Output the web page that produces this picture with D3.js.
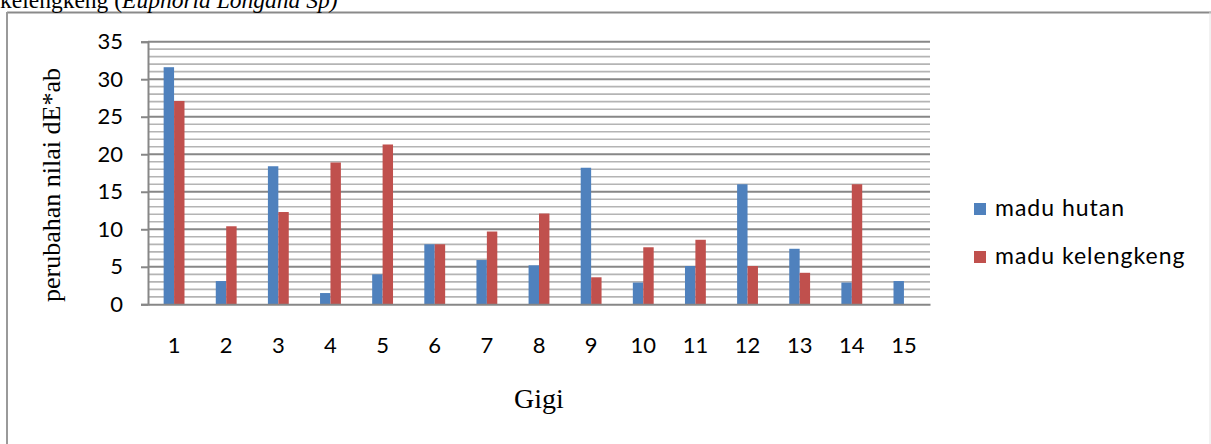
<!DOCTYPE html>
<html>
<head>
<meta charset="utf-8">
<script src="https://cdn.jsdelivr.net/npm/d3@7"></script>
<style>
  body { margin: 0; background: #fff; }
  svg { display: block; }
</style>
</head>
<body>
<div id="chart"></div>
<script>
// Data
const teeth = ['1','2','3','4','5','6','7','8','9','10','11','12','13','14','15'];
const seriesNames = ['madu hutan', 'madu kelengkeng'];
const maduHutan      = [31.6, 3.1, 18.4, 1.5, 4.0, 8.0, 5.9, 5.2, 18.2, 2.9, 5.1, 16.0, 7.4, 2.9, 3.1];
const maduKelengkeng = [27.1, 10.4, 12.3, 18.9, 21.3, 8.0, 9.7, 12.1, 3.6, 7.6, 8.6, 5.1, 4.2, 16.0, 0];
const yTicks = [0, 5, 10, 15, 20, 25, 30, 35];
const colors = ['#4F81BD', '#C0504D'];

const W = 1211, H = 444;
const margin = { top: 41.7, left: 148, right: W - 930, bottom: H - 304.3 };
const width = W - margin.left - margin.right;
const height = H - margin.top - margin.bottom;

const root = d3.select('#chart').append('svg')
    .attr('width', W)
    .attr('height', H);

// frame of the figure and cut-off caption above it
root.append('line').attr('x1', 7).attr('x2', 1211).attr('y1', 12.5).attr('y2', 12.5)
    .attr('stroke', '#8a8a8a').attr('stroke-width', 2);
root.append('line').attr('x1', 7).attr('x2', 7).attr('y1', 12).attr('y2', H)
    .attr('stroke', '#9a9a9a').attr('stroke-width', 2);
root.append('line').attr('x1', 1210).attr('x2', 1210).attr('y1', 12).attr('y2', H)
    .attr('stroke', '#e4e4e4').attr('stroke-width', 1);

const cap = root.append('text')
    .attr('x', 0).attr('y', 8)
    .style('font-family', '"Liberation Serif", "Times New Roman", serif')
    .style('font-size', '23.5px');
cap.append('tspan').text('kelengkeng (');
cap.append('tspan').style('font-style', 'italic').text('Euphoria Longana Sp)');

const svg = root.append('g')
    .attr('transform', `translate(${margin.left},${margin.top})`);

// scales
const x0 = d3.scaleBand().domain(teeth).range([0, width]).paddingInner(0.6).paddingOuter(0.3);
const x1 = d3.scaleBand().domain(seriesNames).range([0, x0.bandwidth()]);
const y = d3.scaleLinear().domain([0, 35]).range([height, 0]);

// gridlines: minor every 1, major every 5
const minor = d3.range(1, 35).filter(v => v % 5 !== 0);
svg.append('g').selectAll('line').data(minor).enter().append('line')
    .attr('x1', 0).attr('x2', width)
    .attr('y1', d => y(d)).attr('y2', d => y(d))
    .attr('stroke', '#b4b4b4').attr('stroke-width', 1.7);
svg.append('g').selectAll('line').data(yTicks.filter(v => v > 0)).enter().append('line')
    .attr('x1', 0).attr('x2', width)
    .attr('y1', d => y(d)).attr('y2', d => y(d))
    .attr('stroke', '#878787').attr('stroke-width', 2);

// bars
const rows = teeth.map((t, i) => ({ t, vals: [maduHutan[i], maduKelengkeng[i]] }));
svg.append('g').selectAll('g').data(rows).enter().append('g')
    .attr('transform', d => `translate(${x0(d.t)},0)`)
    .selectAll('rect')
    .data(d => d.vals.map((v, k) => ({ k, v })))
    .enter().append('rect')
    .attr('x', d => x1(seriesNames[d.k]))
    .attr('width', x1.bandwidth())
    .attr('y', d => y(d.v))
    .attr('height', d => y(0) - y(d.v))
    .attr('fill', d => colors[d.k]);

// axes
const yAxis = svg.append('g')
    .call(d3.axisLeft(y).tickValues(yTicks).tickSize(7).tickPadding(18));
yAxis.select('.domain').attr('stroke', '#878787').attr('stroke-width', 2);
yAxis.selectAll('.tick line').attr('stroke', '#878787').attr('stroke-width', 2);
yAxis.selectAll('text')
    .style('font-family', 'Lato, "Open Sans", sans-serif')
    .style('font-size', '22px')
    .attr('fill', '#000');

const xAxis = svg.append('g')
    .attr('transform', `translate(0,${height})`)
    .call(d3.axisBottom(x0).tickSize(0).tickPadding(33));
xAxis.select('.domain').attr('stroke', '#878787').attr('stroke-width', 2);
xAxis.selectAll('text')
    .style('font-family', 'Lato, "Open Sans", sans-serif')
    .style('font-size', '22px')
    .attr('fill', '#000');

// axis titles
svg.append('text')
    .attr('x', width / 2)
    .attr('y', height + 104)
    .attr('text-anchor', 'middle')
    .style('font-family', '"Liberation Serif", "Times New Roman", serif')
    .style('font-size', '28px')
    .text('Gigi');

svg.append('text')
    .attr('transform', 'rotate(-90)')
    .attr('x', -height / 2 - 12)
    .attr('y', -margin.left + 60)
    .attr('text-anchor', 'middle')
    .style('font-family', '"Liberation Serif", "Times New Roman", serif')
    .style('font-size', '26px')
    .text('perubahan nilai dE*ab');

// legend
const legend = root.append('g').attr('transform', 'translate(974,203)');
const items = legend.selectAll('g').data(seriesNames).enter().append('g')
    .attr('transform', (d, i) => `translate(0,${i * 48})`);
items.append('rect').attr('width', 12).attr('height', 12)
    .attr('fill', (d, i) => colors[i]);
items.append('text')
    .attr('x', 21).attr('y', 13)
    .style('font-family', 'Lato, "Open Sans", sans-serif')
    .style('font-size', '23px')
    .style('letter-spacing', '1px')
    .text(d => d);
</script>
</body>
</html>
